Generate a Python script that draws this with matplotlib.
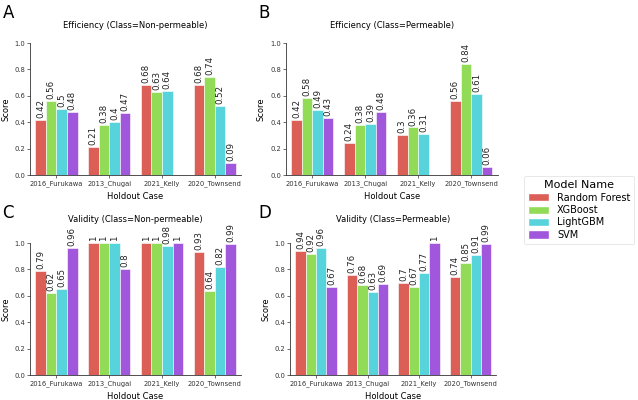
import numpy as np
import matplotlib
matplotlib.use("Agg")
import matplotlib.pyplot as plt
from matplotlib.patches import Patch

cases = ["2016_Furukawa", "2013_Chugai", "2021_Kelly", "2020_Townsend"]
models = ["Random Forest", "XGBoost", "LightGBM", "SVM"]
colors = ["#db5f57", "#91db57", "#57d3db", "#a157db"]

eff_nonperm = {
    "Random Forest": [0.42, 0.21, 0.68, 0.68],
    "XGBoost": [0.56, 0.38, 0.63, 0.74],
    "LightGBM": [0.5, 0.4, 0.64, 0.52],
    "SVM": [0.48, 0.47, np.nan, 0.09],
}
eff_perm = {
    "Random Forest": [0.42, 0.24, 0.3, 0.56],
    "XGBoost": [0.58, 0.38, 0.36, 0.84],
    "LightGBM": [0.49, 0.39, 0.31, 0.61],
    "SVM": [0.43, 0.48, np.nan, 0.06],
}
val_nonperm = {
    "Random Forest": [0.79, 1.0, 1.0, 0.93],
    "XGBoost": [0.62, 1.0, 1.0, 0.64],
    "LightGBM": [0.65, 1.0, 0.98, 0.82],
    "SVM": [0.96, 0.8, 1.0, 0.99],
}
val_perm = {
    "Random Forest": [0.94, 0.76, 0.7, 0.74],
    "XGBoost": [0.92, 0.68, 0.67, 0.85],
    "LightGBM": [0.96, 0.63, 0.77, 0.91],
    "SVM": [0.67, 0.69, 1.0, 0.99],
}

panels = [
    ("A", "Efficiency (Class=Non-permeable)", eff_nonperm, [0.047, 0.5625, 0.331, 0.33], 10.5),
    ("B", "Efficiency (Class=Permeable)", eff_perm, [0.448, 0.5625, 0.332, 0.33], 10.5),
    ("C", "Validity (Class=Non-permeable)", val_nonperm, [0.047, 0.0625, 0.331, 0.33], 15),
    ("D", "Validity (Class=Permeable)", val_perm, [0.455, 0.0625, 0.323, 0.33], 15),
]

fig = plt.figure(figsize=(6.38, 4.0), dpi=100)

def fmt(v):
    return f"{v:g}"

for letter, title, data, rect, tpad in panels:
    ax = fig.add_axes(rect)
    x = np.arange(len(cases))
    w = 0.2
    for i, m in enumerate(models):
        vals = np.array(data[m], dtype=float)
        pos = x - 0.3 + i * w
        bars = ax.bar(pos, np.nan_to_num(vals), width=w, color=colors[i],
                      edgecolor="white", linewidth=0.4)
        for b, v in zip(bars, vals):
            if np.isnan(v):
                b.set_visible(False)
                continue
            ax.text(b.get_x() + b.get_width() / 2, v + 0.015, fmt(v),
                    rotation=90, ha="center", va="bottom", fontsize=6.2,
                    color="#222222")
    ax.set_xlim(-0.5, 3.5)
    ax.set_ylim(0, 1.0)
    ax.set_yticks([0, 0.2, 0.4, 0.6, 0.8, 1.0])
    ax.set_yticklabels(["0.0", "0.2", "0.4", "0.6", "0.8", "1.0"])
    ax.set_xticks(x)
    ax.set_xticklabels(cases)
    ax.tick_params(axis="both", labelsize=4.9, length=2, width=0.5, pad=1.5,
                   colors="#333333")
    for s in ["top", "right"]:
        ax.spines[s].set_visible(False)
    for s in ["left", "bottom"]:
        ax.spines[s].set_linewidth(0.6)
        ax.spines[s].set_color("#333333")
    ax.set_ylabel("Score", fontsize=6, labelpad=3)
    ax.set_xlabel("Holdout Case", fontsize=6, labelpad=4)
    ax.set_title(title, fontsize=6, pad=tpad)
    fx = 0.004 if letter in ("A", "C") else 0.405
    fy = 0.99 if letter in ("A", "B") else 0.49
    fig.text(fx, fy, letter, fontsize=12, ha="left", va="top")

handles = [Patch(facecolor=c, edgecolor="white", label=m) for m, c in zip(models, colors)]
leg = fig.legend(handles=handles, title="Model Name", loc="center",
                 bbox_to_anchor=(0.908, 0.475), fontsize=7, title_fontsize=8,
                 frameon=True, handlelength=2.2, handleheight=0.9,
                 labelspacing=0.25, borderpad=0.4)
leg.get_frame().set_edgecolor("#dddddd")
leg.get_frame().set_linewidth(0.6)

fig.savefig("out.png", dpi=100)
